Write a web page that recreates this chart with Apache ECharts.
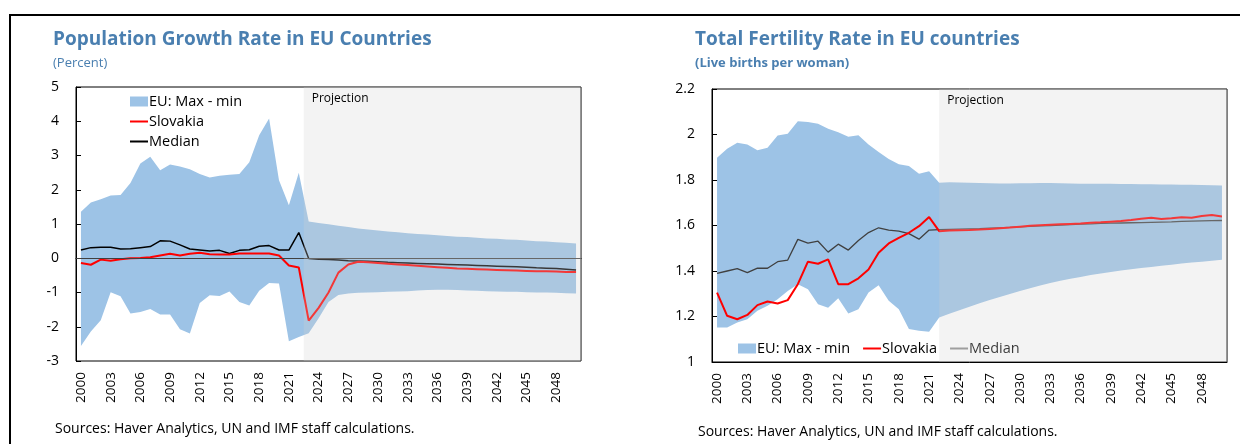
<!DOCTYPE html>
<html>
<head>
<meta charset="utf-8">
<script src="https://cdn.jsdelivr.net/npm/echarts@6/dist/echarts.min.js"></script>
<style>
  body { margin: 0; background: #fff; }
  .frame {
    position: absolute; left: 9px; top: 14px; right: 0; bottom: 0;
    border-top: 2px solid #000; border-left: 2px solid #000;
  }
  .chart-box { position: absolute; top: 0; width: 620px; height: 444px; }
</style>
</head>
<body>
<div class="frame"></div>
<div id="chartPop" class="chart-box" style="left:0"></div>
<div id="chartTfr" class="chart-box" style="left:620px"></div>

<script>
// 年份（类别）
const years = [
  2000, 2001, 2002, 2003, 2004, 2005, 2006, 2007, 2008, 2009,
  2010, 2011, 2012, 2013, 2014, 2015, 2016, 2017, 2018, 2019,
  2020, 2021, 2022, 2023, 2024, 2025, 2026, 2027, 2028, 2029,
  2030, 2031, 2032, 2033, 2034, 2035, 2036, 2037, 2038, 2039,
  2040, 2041, 2042, 2043, 2044, 2045, 2046, 2047, 2048, 2049, 2050
]
const yearTicks = [2000, 2003, 2006, 2009, 2012, 2015, 2018, 2021, 2024, 2027, 2030, 2033, 2036, 2039, 2042, 2045, 2048]

// 人口增长率 (%)
const popMax = [
  1.36, 1.63, 1.72, 1.83, 1.85, 2.20, 2.77, 2.96, 2.57, 2.74,
  2.68, 2.60, 2.46, 2.36, 2.41, 2.44, 2.46, 2.80, 3.59, 4.08,
  2.28, 1.55, 2.50, 1.07, 1.03, 0.99, 0.95, 0.91, 0.87, 0.84,
  0.81, 0.78, 0.76, 0.73, 0.71, 0.69, 0.67, 0.65, 0.63, 0.62,
  0.60, 0.58, 0.57, 0.55, 0.54, 0.52, 0.50, 0.49, 0.47, 0.45, 0.43
]
const popMin = [
  -2.56, -2.14, -1.81, -0.99, -1.11, -1.61, -1.57, -1.48, -1.64, -1.64,
  -2.07, -2.20, -1.31, -1.08, -1.10, -0.97, -1.28, -1.38, -0.95, -0.72,
  -0.74, -2.42, -2.30, -2.19, -1.75, -1.28, -1.07, -1.03, -1.01, -1.00,
  -0.99, -0.98, -0.97, -0.96, -0.94, -0.93, -0.92, -0.92, -0.93, -0.94,
  -0.95, -0.96, -0.97, -0.98, -0.98, -0.99, -1.00, -1.00, -1.01, -1.02, -1.03
]
const popSlovakia = [
  -0.14, -0.19, -0.04, -0.07, -0.03, 0.00, 0.01, 0.03, 0.08, 0.13,
  0.08, 0.13, 0.16, 0.12, 0.11, 0.11, 0.14, 0.14, 0.14, 0.14,
  0.08, -0.21, -0.27, -1.82, -1.45, -1.00, -0.42, -0.18, -0.10, -0.12,
  -0.14, -0.16, -0.18, -0.20, -0.22, -0.24, -0.26, -0.28, -0.30, -0.31,
  -0.32, -0.33, -0.34, -0.35, -0.36, -0.37, -0.38, -0.38, -0.39, -0.40, -0.40
]
const popMedian = [
  0.24, 0.31, 0.32, 0.32, 0.27, 0.28, 0.31, 0.34, 0.51, 0.50,
  0.39, 0.27, 0.24, 0.21, 0.23, 0.14, 0.23, 0.25, 0.35, 0.37,
  0.24, 0.24, 0.75, -0.01, -0.03, -0.04, -0.05, -0.07, -0.08, -0.09,
  -0.10, -0.12, -0.13, -0.14, -0.15, -0.16, -0.17, -0.18, -0.19, -0.20,
  -0.21, -0.22, -0.23, -0.24, -0.25, -0.26, -0.28, -0.29, -0.30, -0.32, -0.34
]

// 总和生育率（每名妇女活产数）
const tfrMax = [
  1.898, 1.937, 1.964, 1.956, 1.931, 1.942, 1.996, 2.003, 2.058, 2.055,
  2.047, 2.025, 2.010, 1.990, 1.997, 1.956, 1.923, 1.892, 1.869, 1.861,
  1.828, 1.839, 1.788, 1.790, 1.789, 1.788, 1.787, 1.786, 1.785, 1.785,
  1.786, 1.786, 1.787, 1.787, 1.786, 1.785, 1.784, 1.784, 1.783, 1.783,
  1.782, 1.782, 1.781, 1.781, 1.780, 1.780, 1.779, 1.779, 1.778, 1.777, 1.776
]
const tfrMin = [
  1.152, 1.152, 1.174, 1.188, 1.225, 1.247, 1.276, 1.312, 1.342, 1.320,
  1.254, 1.239, 1.280, 1.213, 1.232, 1.305, 1.337, 1.269, 1.232, 1.145,
  1.137, 1.133, 1.196, 1.212, 1.228, 1.243, 1.258, 1.272, 1.286, 1.299,
  1.312, 1.324, 1.336, 1.347, 1.357, 1.366, 1.374, 1.382, 1.389, 1.396,
  1.402, 1.408, 1.413, 1.418, 1.423, 1.428, 1.433, 1.437, 1.441, 1.445, 1.449
]
const tfrSlovakia = [
  1.305, 1.203, 1.188, 1.207, 1.250, 1.266, 1.257, 1.272, 1.342, 1.441,
  1.432, 1.451, 1.342, 1.342, 1.368, 1.407, 1.480, 1.521, 1.546, 1.568,
  1.597, 1.637, 1.575, 1.578, 1.579, 1.580, 1.582, 1.585, 1.588, 1.591,
  1.595, 1.599, 1.601, 1.603, 1.605, 1.607, 1.609, 1.612, 1.614, 1.617,
  1.620, 1.624, 1.630, 1.634, 1.629, 1.632, 1.636, 1.634, 1.642, 1.646, 1.640
]
const tfrMedian = [
  1.390, 1.400, 1.410, 1.393, 1.413, 1.412, 1.441, 1.448, 1.539, 1.523,
  1.531, 1.483, 1.518, 1.492, 1.534, 1.569, 1.590, 1.580, 1.575, 1.564,
  1.540, 1.580, 1.582, 1.583, 1.584, 1.585, 1.586, 1.588, 1.590, 1.592,
  1.594, 1.596, 1.598, 1.600, 1.602, 1.604, 1.606, 1.607, 1.609, 1.610,
  1.611, 1.612, 1.613, 1.614, 1.615, 1.616, 1.618, 1.619, 1.620, 1.621, 1.622
]

const FONT = 'Open Sans'
const TITLE_BLUE = '#4a7fb0'
const BAND_BLUE = '#9dc3e6'
const SOURCE = 'Sources: Haver Analytics, UN and IMF staff calculations.'
// 图例中的细线图标（保持宽高比）
const LINE_ICON = 'path://M0,0H18V2H0Z'

const pairs = (vals) => years.map((y, i) => [y, vals[i]])

// 最大-最小区间：用自定义系列画一个多边形（坐标经由轴换算）
const bandRenderer = (minArr, maxArr) => (params, api) => {
  if (params.dataIndex !== 0) return
  const upper = years.map((y, i) => api.coord([y, maxArr[i]]))
  const lower = years.map((y, i) => api.coord([y, minArr[i]])).reverse()
  return {
    type: 'polygon',
    shape: { points: upper.concat(lower) },
    style: { fill: BAND_BLUE },
    silent: true
  }
}

// 构建单个图表配置
const buildOption = (cfg) => {
  return {
    animation: false,
    textStyle: { fontFamily: FONT },
    title: [
      {
        text: cfg.title,
        subtext: cfg.subtitle,
        left: cfg.titleLeft,
        top: 30,
        padding: 0,
        itemGap: 8,
        textStyle: { fontFamily: FONT, fontSize: 19, fontWeight: 'bold', color: TITLE_BLUE },
        subtextStyle: { fontFamily: FONT, fontSize: 13, color: TITLE_BLUE, fontWeight: cfg.subWeight }
      },
      {
        text: SOURCE,
        left: cfg.sourceLeft,
        top: cfg.sourceTop,
        padding: 0,
        textStyle: { fontFamily: FONT, fontSize: 14, fontWeight: 'normal', color: '#000' }
      }
    ],
    legend: Object.assign({
      itemWidth: 18,
      itemHeight: 10,
      symbolKeepAspect: true,
      textStyle: { fontFamily: FONT, fontSize: 14.5, color: '#000', padding: [0, 0, 0, -4] },
      data: [
        { name: 'EU: Max - min', icon: 'rect', itemStyle: { color: BAND_BLUE } },
        { name: 'Slovakia', icon: LINE_ICON, itemStyle: { color: '#ff0000' } },
        { name: 'Median', icon: LINE_ICON, itemStyle: { color: cfg.medianLegend } }
      ]
    }, cfg.legend),
    grid: Object.assign({ show: true, borderColor: '#000', borderWidth: 1, containLabel: false }, cfg.grid),
    xAxis: {
      type: 'value',
      min: 1999.5,
      max: 2050.5,
      axisLine: { lineStyle: { color: '#000' } },
      axisTick: { show: false },
      splitLine: { show: false },
      axisLabel: {
        customValues: yearTicks,
        rotate: 90,
        margin: 11,
        fontSize: 13.5,
        color: '#000',
        formatter: (v) => String(v)
      }
    },
    yAxis: {
      type: 'value',
      min: cfg.yMin,
      max: cfg.yMax,
      interval: cfg.yStep,
      axisLine: { show: true, lineStyle: { color: '#000' } },
      axisTick: { show: true, inside: true, length: 5, lineStyle: { color: '#000' } },
      splitLine: { show: false },
      axisLabel: { margin: 17, fontSize: 14, color: '#000', formatter: cfg.yFmt }
    },
    series: [
      {
        name: 'EU: Max - min',
        type: 'custom',
        renderItem: bandRenderer(cfg.min, cfg.max),
        data: years.map((y, i) => [y, cfg.min[i], cfg.max[i]]),
        encode: { x: 0, y: [1, 2] },
        itemStyle: { color: BAND_BLUE },
        silent: true,
        clip: true,
        z: 1
      },
      {
        name: 'Median',
        type: 'line',
        data: pairs(cfg.median),
        symbol: 'none',
        lineStyle: { color: cfg.medianColor, width: cfg.medianWidth },
        itemStyle: { color: cfg.medianColor },
        z: 3,
        markLine: cfg.zeroLine ? {
          silent: true,
          symbol: 'none',
          label: { show: false },
          lineStyle: { color: '#404040', width: 1, type: 'solid' },
          data: [{ yAxis: 0 }]
        } : undefined
      },
      {
        name: 'Slovakia',
        type: 'line',
        data: pairs(cfg.slovakia),
        symbol: 'none',
        lineStyle: { color: '#ff0000', width: 2 },
        itemStyle: { color: '#ff0000' },
        z: 4
      },
      {
        // 预测区间遮罩（半透明灰，盖在区间带和线上）
        name: 'projection',
        type: 'line',
        data: [],
        z: 5,
        silent: true,
        markArea: {
          silent: true,
          z: 10,
          itemStyle: { color: 'rgba(210,210,210,0.265)' },
          label: {
            show: true,
            position: 'insideTopLeft',
            offset: [3, 1],
            fontFamily: FONT,
            fontSize: 12,
            color: '#000',
            formatter: 'Projection'
          },
          data: [[{ xAxis: cfg.projStart }, { xAxis: 2050.5 }]]
        }
      }
    ]
  }
}

const popChart = echarts.init(document.getElementById('chartPop'))
popChart.setOption(buildOption({
  title: 'Population Growth Rate in EU Countries',
  subtitle: '(Percent)',
  subWeight: 'normal',
  titleLeft: 53,
  sourceLeft: 55,
  sourceTop: 422,
  grid: { left: 76, right: 39, top: 87, height: 274 },
  legend: { orient: 'vertical', left: 125, top: 89, itemGap: 5 },
  yMin: -3, yMax: 5, yStep: 1,
  yFmt: (v) => String(v),
  max: popMax, min: popMin, slovakia: popSlovakia, median: popMedian,
  medianColor: '#000', medianWidth: 1.5, medianLegend: '#000',
  zeroLine: true,
  projStart: 2022.5
}))

const tfrChart = echarts.init(document.getElementById('chartTfr'))
tfrChart.setOption(buildOption({
  title: 'Total Fertility Rate in EU countries',
  subtitle: '(Live births per woman)',
  subWeight: 'bold',
  titleLeft: 75,
  sourceLeft: 78,
  sourceTop: 425,
  grid: { left: 92, right: 13, top: 89, height: 273 },
  legend: { orient: 'horizontal', left: 113, top: 336, itemGap: 13 },
  yMin: 1, yMax: 2.2, yStep: 0.2,
  yFmt: (v) => String(+v.toFixed(1)),
  max: tfrMax, min: tfrMin, slovakia: tfrSlovakia, median: tfrMedian,
  medianColor: '#404040', medianWidth: 1.3, medianLegend: '#8c8c8c',
  zeroLine: false,
  projStart: 2022
}))

window.addEventListener('resize', () => {
  popChart.resize()
  tfrChart.resize()
})
</script>
</body>
</html>
